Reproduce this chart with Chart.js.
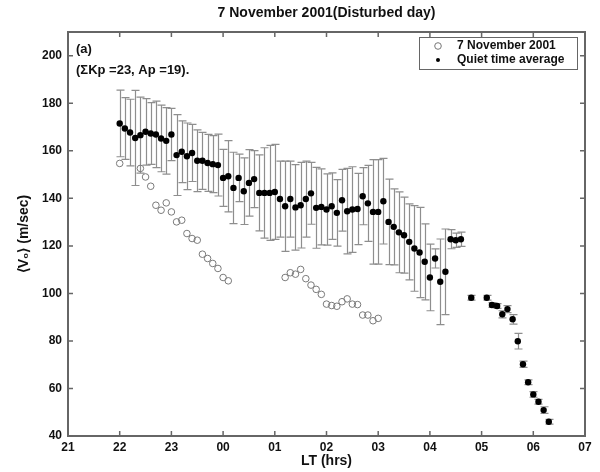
<!DOCTYPE html>
<html>
<head>
<meta charset="utf-8">
<script src="https://cdn.jsdelivr.net/npm/chart.js@4/dist/chart.umd.min.js"></script>
<style>
  body { margin: 0; background: #fff; }
</style>
</head>
<body>
<canvas id="chart" width="600" height="472"></canvas>
<script>
// quiet time average (filled dots with error bars), hours after 21 LT run on past 24
const quietHours = [
  22.0, 22.1, 22.2, 22.3, 22.4, 22.5, 22.6, 22.7, 22.8, 22.9,
  23.0, 23.1, 23.2, 23.3, 23.4, 23.5, 23.6, 23.7, 23.8, 23.9,
  24.0, 24.1, 24.2, 24.3, 24.4, 24.5, 24.6, 24.7, 24.8, 24.9,
  25.0, 25.1, 25.2, 25.3, 25.4, 25.5, 25.6, 25.7, 25.8, 25.9,
  26.0, 26.1, 26.2, 26.3, 26.4, 26.5, 26.6, 26.7, 26.8, 26.9,
  27.0, 27.1, 27.2, 27.3, 27.4, 27.5, 27.6, 27.7, 27.8, 27.9,
  28.0, 28.1, 28.2, 28.3, 28.4, 28.5, 28.6,
  28.8, 29.1, 29.2, 29.3, 29.4, 29.5, 29.6, 29.7, 29.8, 29.9, 30.0, 30.1, 30.2, 30.3
];
const quietMean = [
  171.5, 169.4, 167.7, 165.4, 166.6, 168.0, 167.3, 166.9, 165.2, 164.2,
  166.9, 158.2, 159.6, 157.7, 159.1, 155.8, 155.8, 154.9, 154.4, 154.0,
  148.6, 149.3, 144.4, 148.6, 143.0, 146.5, 148.1, 142.3, 142.3, 142.3,
  142.7, 139.7, 136.7, 139.7, 136.2, 137.1, 139.7, 142.1, 136.0, 136.4,
  135.3, 136.7, 133.9, 139.2, 134.6, 135.3, 135.5, 140.9, 137.9, 134.3,
  134.3, 138.8, 130.1, 128.0, 125.7, 124.5, 121.7, 118.9, 117.2, 113.3,
  106.7, 114.7, 104.9, 109.1, 122.8, 122.4, 122.8,
  98.2, 98.2, 95.1, 94.7, 91.2, 93.4, 89.1, 79.9, 70.2, 62.6, 57.5, 54.4, 50.9, 46.0
];
const quietErr = [
  14, 13, 14, 20, 16, 14, 13, 14, 14, 14,
  11, 17, 13, 14, 12, 13, 12, 12, 12, 13,
  12, 15, 15, 10, 14, 14, 12, 16, 19, 20,
  20, 16, 19, 16, 18, 18, 16, 13, 17, 16,
  15, 14, 14, 13, 18, 18, 15, 12, 16, 22,
  22, 18, 18, 16, 17, 16, 16, 18, 19, 16,
  14, 4, 18, 18, 4, 3, 3,
  1, 1, 1, 1, 1.5, 1.5, 2, 3.3, 1.3, 1, 1.2, 1, 1.4, 1
];

// 7 November 2001 (open circles)
const distHours = [
  22.0, 22.4, 22.5, 22.6, 22.7, 22.8, 22.9, 23.0, 23.1, 23.2,
  23.3, 23.4, 23.5, 23.6, 23.7, 23.8, 23.9, 24.0, 24.1,
  25.2, 25.3, 25.4, 25.5, 25.6, 25.7, 25.8, 25.9, 26.0, 26.1,
  26.2, 26.3, 26.4, 26.5, 26.6, 26.7, 26.8, 26.9, 27.0
];
const distValues = [
  154.7, 152.6, 149.0, 145.1, 137.1, 135.0, 138.1, 134.3, 130.1, 130.8,
  125.2, 123.1, 122.4, 116.5, 114.7, 112.6, 110.5, 106.7, 105.3,
  106.7, 108.7, 108.1, 110.1, 106.2, 103.5, 101.7, 99.6, 95.5, 94.9,
  94.6, 96.5, 97.7, 95.5, 95.3, 90.9, 90.9, 88.5, 89.5
];

const xTicks = [21, 22, 23, 24, 25, 26, 27, 28, 29, 30, 31];
const xTickLabels = ['21', '22', '23', '00', '01', '02', '03', '04', '05', '06', '07'];
const yTicks = [40, 60, 80, 100, 120, 140, 160, 180, 200];

const FONT = "'Liberation Sans', Arial, sans-serif";
const AXIS = '#666';

const extras = {
  id: 'extras',
  beforeDatasetsDraw(chart) {
    const { ctx, scales: { x, y } } = chart;
    ctx.save();
    ctx.strokeStyle = '#8e8e8e';
    ctx.lineWidth = 1.2;
    quietHours.forEach((h, i) => {
      const px = Math.round(x.getPixelForValue(h)) + 0.5;
      const top = y.getPixelForValue(quietMean[i] + quietErr[i]);
      const bot = y.getPixelForValue(quietMean[i] - quietErr[i]);
      ctx.beginPath();
      ctx.moveTo(px, top); ctx.lineTo(px, bot);
      ctx.moveTo(px - 4, top); ctx.lineTo(px + 4, top);
      ctx.moveTo(px - 4, bot); ctx.lineTo(px + 4, bot);
      ctx.stroke();
    });
    ctx.restore();
  },
  afterDraw(chart) {
    const { ctx, chartArea: a, scales: { x, y } } = chart;
    ctx.save();
    // box and inward ticks
    ctx.strokeStyle = AXIS;
    ctx.lineWidth = 2;
    ctx.strokeRect(a.left, a.top, a.right - a.left, a.bottom - a.top);
    ctx.lineWidth = 1.5;
    ctx.beginPath();
    x.ticks.forEach(t => {
      const px = x.getPixelForValue(t.value);
      ctx.moveTo(px, a.bottom); ctx.lineTo(px, a.bottom - 5);
      ctx.moveTo(px, a.top); ctx.lineTo(px, a.top + 5);
    });
    y.ticks.forEach(t => {
      const py = y.getPixelForValue(t.value);
      ctx.moveTo(a.left, py); ctx.lineTo(a.left + 5, py);
      ctx.moveTo(a.right, py); ctx.lineTo(a.right - 5, py);
    });
    ctx.stroke();

    // title
    ctx.fillStyle = '#111';
    ctx.textBaseline = 'middle';
    ctx.textAlign = 'center';
    ctx.font = 'bold 14px ' + FONT;
    ctx.fillText('7 November 2001(Disturbed day)', (a.left + a.right) / 2, 13);

    // panel notes
    ctx.textAlign = 'left';
    ctx.font = 'bold 13px ' + FONT;
    ctx.fillText('(a)', a.left + 8, 49);
    ctx.fillText('(\u03A3Kp =23, Ap =19).', a.left + 8, 70);

    // legend
    ctx.fillStyle = '#fff';
    ctx.fillRect(419.5, 37.5, 158, 32);
    ctx.strokeStyle = '#666';
    ctx.lineWidth = 1;
    ctx.strokeRect(419.5, 37.5, 158, 32);
    ctx.beginPath();
    ctx.arc(438, 46, 3.3, 0, Math.PI * 2);
    ctx.strokeStyle = '#777';
    ctx.stroke();
    ctx.beginPath();
    ctx.arc(438, 60, 2, 0, Math.PI * 2);
    ctx.fillStyle = '#000';
    ctx.fill();
    ctx.fillStyle = '#111';
    ctx.font = 'bold 12px ' + FONT;
    ctx.fillText('7 November 2001', 457, 46);
    ctx.fillText('Quiet time average', 457, 60);
    ctx.restore();
  }
};

new Chart(document.getElementById('chart'), {
  type: 'scatter',
  data: {
    datasets: [{
      label: '7 November 2001',
      data: distHours.map((h, i) => ({ x: h, y: distValues[i] })),
      pointRadius: 3.3,
      pointBorderWidth: 1,
      pointBorderColor: '#7a7a7a',
      pointBackgroundColor: 'rgba(255,255,255,0)',
      showLine: false
    }, {
      label: 'Quiet time average',
      data: quietHours.map((h, i) => ({ x: h, y: quietMean[i] })),
      pointRadius: 3.2,
      pointBorderWidth: 0,
      pointBackgroundColor: '#000',
      showLine: false
    }]
  },
  options: {
    responsive: false,
    animation: false,
    devicePixelRatio: 1,
    layout: { padding: { left: 0, right: 15, top: 32, bottom: 0 } },
    plugins: {
      legend: { display: false },
      tooltip: { enabled: false },
      title: { display: false }
    },
    scales: {
      x: {
        type: 'linear',
        min: 21,
        max: 31,
        afterBuildTicks: s => { s.ticks = xTicks.map(v => ({ value: v })); },
        afterFit: s => { s.height = 36; },
        grid: { display: false, drawTicks: false },
        border: { display: false },
        ticks: {
          padding: 4,
          color: '#111',
          font: { family: FONT, size: 12, weight: 'bold' },
          callback: (v, i) => xTickLabels[i]
        },
        title: {
          display: true,
          text: 'LT (hrs)',
          color: '#111',
          font: { family: FONT, size: 14, weight: 'bold' },
          padding: { top: 0, bottom: 2 }
        }
      },
      y: {
        min: 40,
        max: 210,
        afterBuildTicks: s => { s.ticks = yTicks.map(v => ({ value: v })); },
        afterFit: s => { s.width = 68; },
        grid: { display: false, drawTicks: false },
        border: { display: false },
        ticks: {
          padding: 6,
          color: '#111',
          font: { family: FONT, size: 12, weight: 'bold' }
        },
        title: {
          display: true,
          text: '\u27E8V\u2080\u27E9 (m/sec)',
          color: '#111',
          font: { family: FONT, size: 14, weight: 'bold' },
          padding: { top: 16, bottom: 0 }
        }
      }
    }
  },
  plugins: [extras]
});
</script>
</body>
</html>
